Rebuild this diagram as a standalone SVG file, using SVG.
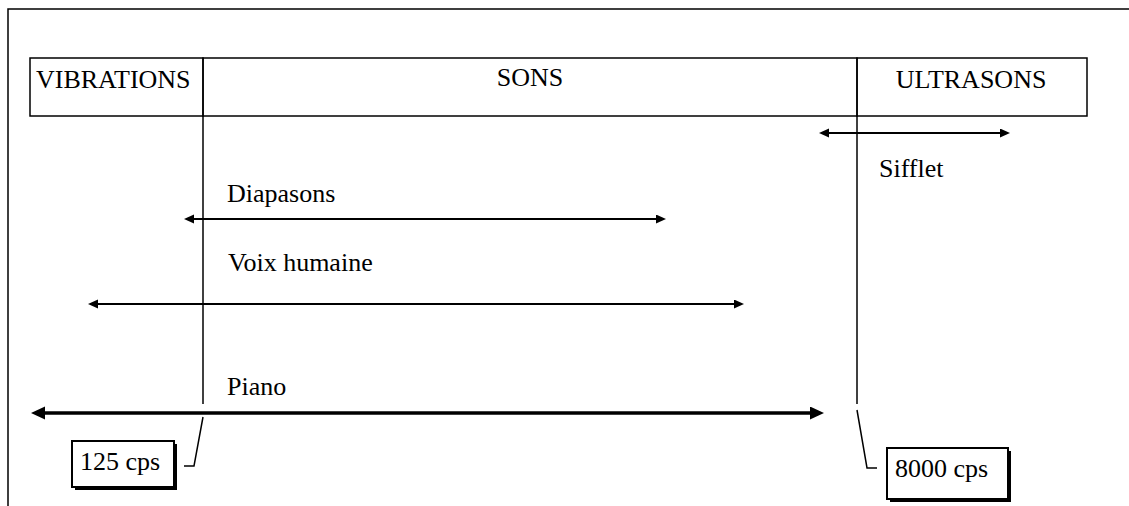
<svg xmlns="http://www.w3.org/2000/svg" width="1129" height="506" viewBox="0 0 1129 506">
  <style>
    .t { font-family: "Liberation Serif", "Times New Roman", serif; font-size: 26px; fill: #000; }
    .ln { stroke: #000; stroke-width: 1.5; fill: none; }
    .arr { stroke: #000; stroke-width: 2; fill: none; }
    .arrb { stroke: #000; stroke-width: 3.5; fill: none; }
    .box { fill: #fff; stroke: #000; stroke-width: 2; }
    .shadow { fill: #000; }
  </style>
  <defs>
    <marker id="ah" markerUnits="userSpaceOnUse" markerWidth="11" markerHeight="10" refX="0" refY="4.5" orient="auto-start-reverse">
      <path d="M0,0 L10,4.5 L0,9 z" fill="#000"/>
    </marker>
    <marker id="ahb" markerUnits="userSpaceOnUse" markerWidth="15" markerHeight="14" refX="0" refY="6.5" orient="auto-start-reverse">
      <path d="M0,0 L14,6.5 L0,13 z" fill="#000"/>
    </marker>
  </defs>
  <rect width="1129" height="506" fill="#fff"/>

  <!-- outer frame -->
  <path class="ln" d="M8,506 L8,9 L1129,9"/>

  <!-- header table -->
  <g id="vibrations">
    <rect class="ln" x="30" y="58" width="173" height="58"/>
    <text class="t" x="36" y="88">VIBRATIONS</text>
  </g>
  <g id="sons">
    <rect class="ln" x="203" y="58" width="654" height="58"/>
    <text class="t" x="530" y="86" text-anchor="middle">SONS</text>
  </g>
  <g id="ultrasons">
    <rect class="ln" x="857" y="58" width="230" height="58"/>
    <text class="t" x="971" y="88" text-anchor="middle">ULTRASONS</text>
  </g>

  <g id="connectors">
    <!-- boundary lines -->
    <path class="ln" d="M203,116 L203,404"/>
    <path class="ln" d="M857,116 L857,404"/>
    <!-- leaders to labels -->
    <path class="ln" d="M203,417 L194,466 L184,466"/>
    <path class="ln" d="M857,410 L867,468 L877,468"/>
    <!-- ranges -->
    <line class="arr" x1="829" y1="133" x2="1000" y2="133" marker-start="url(#ah)" marker-end="url(#ah)"/>
    <line class="arr" x1="194" y1="219" x2="656" y2="219" marker-start="url(#ah)" marker-end="url(#ah)"/>
    <line class="arr" x1="98" y1="304" x2="734" y2="304" marker-start="url(#ah)" marker-end="url(#ah)"/>
    <line class="arrb" x1="45" y1="413" x2="810" y2="413" marker-start="url(#ahb)" marker-end="url(#ahb)"/>
  </g>

  <g id="sifflet"><text class="t" x="879" y="177">Sifflet</text></g>
  <g id="diapasons"><text class="t" x="227" y="202">Diapasons</text></g>
  <g id="voix"><text class="t" x="228" y="271">Voix humaine</text></g>
  <g id="piano"><text class="t" x="227" y="395">Piano</text></g>

  <g id="cps125">
    <rect class="shadow" x="75" y="444" width="102" height="46"/>
    <rect class="box" x="72" y="441" width="102" height="46"/>
    <text class="t" x="80" y="470">125 cps</text>
  </g>
  <g id="cps8000">
    <rect class="shadow" x="890" y="451" width="121" height="51"/>
    <rect class="box" x="887" y="448" width="121" height="51"/>
    <text class="t" x="895" y="477">8000 cps</text>
  </g>
</svg>
